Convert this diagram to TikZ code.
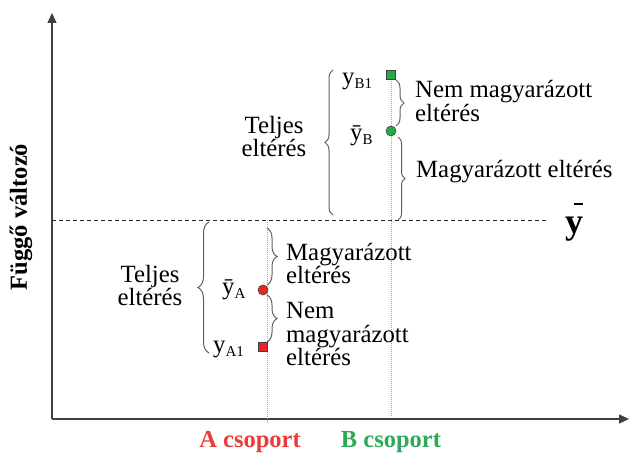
\documentclass[tikz,border=0pt]{standalone}
\usepackage{fontspec}
\setmainfont{Liberation Serif}
\usetikzlibrary{arrows.meta,decorations.pathreplacing}
\definecolor{axisgray}{RGB}{64,64,64}
\definecolor{bracegray}{RGB}{95,95,95}
\definecolor{mkred}{RGB}{228,38,38}
\definecolor{mkgreen}{RGB}{38,170,72}
\definecolor{lbred}{RGB}{236,58,58}
\definecolor{lbgreen}{RGB}{44,170,88}
\newcommand\subs[1]{\raisebox{-3.5pt}{\fontsize{15}{15}\selectfont #1}}
\tikzset{
  axis/.style={draw=axisgray,line width=1.3pt,-{Triangle[width=9pt,length=10pt]}},
  meanline/.style={draw=black!85,line width=0.9pt,dash pattern=on 4pt off 3pt},
  guide/.style={draw=gray!70,line width=0.8pt,dash pattern=on 1pt off 1pt},
  cbrace/.style={draw=bracegray,line width=1pt,decorate,decoration={brace,amplitude=#1}},
  txt/.style={inner sep=0pt,font=\fontsize{24.8}{23.5}\selectfont},
  lbl/.style={inner sep=0pt,font=\fontsize{24.5}{24}\selectfont\bfseries},
  sqmark/.style={draw=black!75,line width=0.6pt,minimum size=9pt,inner sep=0pt,rectangle},
  cirmark/.style={draw=black!75,line width=0.6pt,minimum size=10pt,inner sep=0pt,circle},
}
\begin{document}
\begin{tikzpicture}[x=1pt,y=-1pt]
\useasboundingbox (0,0) rectangle (630,454);
% axes
\coordinate (O) at (52,419);
\coordinate (Ytop) at (52,13);
\coordinate (Xend) at (629,419);
\draw[axis] (O) -- (Ytop);
\draw[axis] (O) -- (Xend);
% mean line
\coordinate (M0) at (52,220);
\coordinate (M1) at (548,220);
\draw[meanline] (M0) -- (M1);
% guides
\coordinate (GA0) at (267,220);
\coordinate (GA1) at (267,424);
\coordinate (GB0) at (391,75);
\coordinate (GB1) at (391,417);
\draw[guide] (GA0) -- (GA1);
\draw[guide] (GB0) -- (GB1);
% markers
\node[sqmark,fill=mkgreen] (yB1) at (391,74.5) {};
\node[cirmark,fill=mkgreen] (yBm) at (391,131) {};
\node[cirmark,fill=mkred] (yAm) at (263,290) {};
\node[sqmark,fill=mkred] (yA1) at (263,347) {};
% y bar label
\node[inner sep=0pt,font=\fontsize{36}{36}\selectfont\bfseries,anchor=base west] (ybar) at (565,233.5) {y};
\coordinate (bar0) at (574,204);
\coordinate (bar1) at (583,204);
\draw[line width=1.2pt] (bar0) -- (bar1);
% axis title
\node[lbl,rotate=90,anchor=base] (ytitle) at (27,217) {Függő változó};
\node[lbl,text=lbred,anchor=base] (la) at (250,448) {A csoport};
\node[lbl,text=lbgreen,anchor=base] (lb) at (391,448) {B csoport};
% point labels
\node[txt,anchor=base west] (tB1) at (342,85) {y\subs{B1}};
\node[txt,anchor=base west] (tBm) at (350,141) {\=y\subs{B}};
\node[txt,anchor=base west] (tAm) at (222,295) {\=y\subs{A}};
\node[txt,anchor=base west] (tA1) at (213,353) {y\subs{A1}};
% B braces
\coordinate (bl0) at (333,215);
\coordinate (bl1) at (333,70);
\draw[cbrace=8pt] (bl0) -- (bl1);
\coordinate (bn0) at (396,80);
\coordinate (bn1) at (396,126);
\draw[cbrace=8pt] (bn0) -- (bn1);
\coordinate (bm0) at (398,137);
\coordinate (bm1) at (398,220);
\draw[cbrace=7pt] (bm0) -- (bm1);
% A braces
\coordinate (al0) at (209,353);
\coordinate (al1) at (209,222);
\draw[cbrace=11pt] (al0) -- (al1);
\coordinate (am0) at (267,228);
\coordinate (am1) at (267,285);
\draw[cbrace=10pt] (am0) -- (am1);
\coordinate (an0) at (267,295);
\coordinate (an1) at (267,342);
\draw[cbrace=10pt] (an0) -- (an1);
% brace texts (base anchor = last line baseline)
\node[txt,align=center,anchor=base] (tBt) at (274,157) {Teljes\\eltérés};
\node[txt,align=left,anchor=base west] (tBn) at (415,121.5) {Nem magyarázott\\eltérés};
\node[txt,anchor=base west] (tBmg) at (416,178) {Magyarázott eltérés};
\node[txt,align=center,anchor=base] (tAt) at (150,306) {Teljes\\eltérés};
\node[txt,align=left,anchor=base west] (tAmg) at (286,284) {Magyarázott\\eltérés};
\node[txt,align=left,anchor=base west] (tAn) at (286,366) {Nem\\magyarázott\\eltérés};
\end{tikzpicture}
\end{document}
